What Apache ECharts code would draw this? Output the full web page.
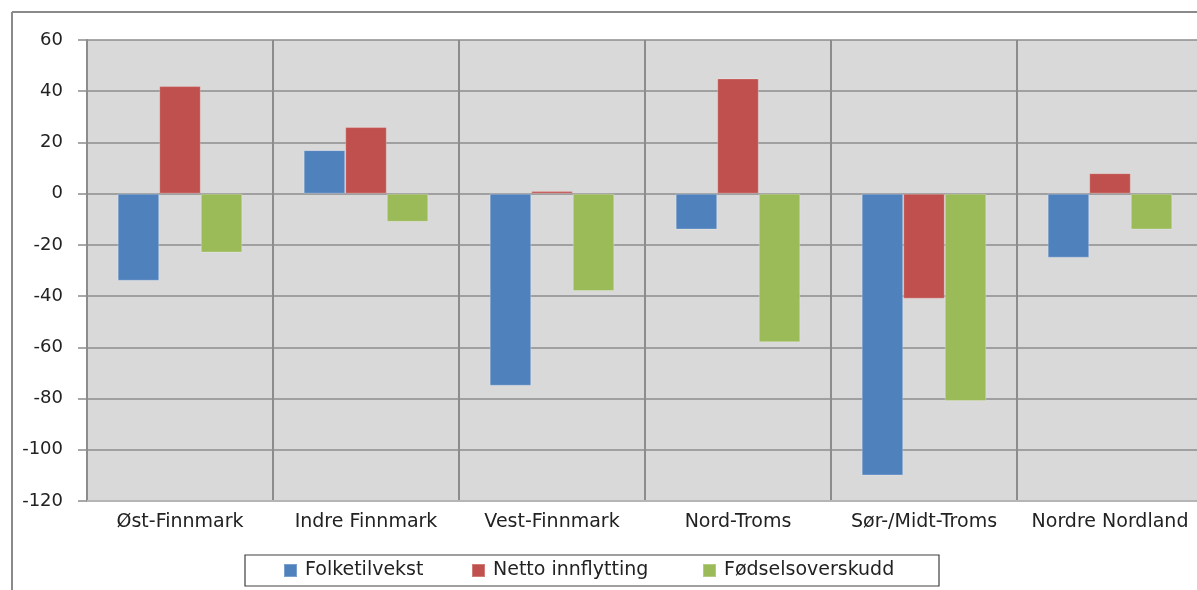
<!DOCTYPE html>
<html>
<head>
<meta charset="utf-8">
<script src="https://cdn.jsdelivr.net/npm/echarts@6/dist/echarts.min.js"></script>
<style>
html,body{margin:0;padding:0;background:#fff;overflow:hidden;}
#c{width:1203px;height:590px;}
</style>
</head>
<body>
<div id="c"></div>
<script>
const categories = ['Øst-Finnmark','Indre Finnmark','Vest-Finnmark','Nord-Troms','Sør-/Midt-Troms','Nordre Nordland'];
const seriesNames = ['Folketilvekst','Netto innflytting','Fødselsoverskudd'];
const folketilvekst = [-34, 17, -75, -14, -110, -25];
const nettoInnflytting = [42, 26, 1, 45, -41, 8];
const fodselsoverskudd = [-23, -11, -38, -58, -81, -14];
const yTicks = {min: -120, max: 60, interval: 20};

const colors = ['#4F81BD','#C0504D','#9BBB59'];
const values = [folketilvekst, nettoInnflytting, fodselsoverskudd];
const font = 'DejaVu Sans';
const legendLefts = [283, 471, 702];

const chart = echarts.init(document.getElementById('c'));
chart.setOption({
  animation: false,
  backgroundColor: '#fff',
  graphic: [
    {type:'line', shape:{x1:12,y1:12,x2:1203,y2:12}, style:{stroke:'#8a8a8a', lineWidth:2}},
    {type:'line', shape:{x1:12,y1:12,x2:12,y2:590}, style:{stroke:'#8a8a8a', lineWidth:2}},
    {type:'rect', shape:{x:245,y:555,width:694,height:31}, style:{fill:'#fff', stroke:'#404040', lineWidth:1.2}, z:-1}
  ],
  legend: seriesNames.map((n,i)=>({
    data:[n], left: legendLefts[i], top: 561, padding:0,
    itemWidth:13, itemHeight:13, icon:'rect', itemGap:0,
    textStyle:{fontFamily:font, fontSize:19, color:'#222', padding:[0,0,0,3]}
  })),
  grid: {left:87, top:40, right:0, bottom:89, show:true, backgroundColor:'#D9D9D9', borderWidth:0, containLabel:false},
  xAxis: {
    type:'category', data: categories,
    axisLine:{show:true, onZero:false, lineStyle:{color:'#b5b5b5', width:2}},
    axisTick:{show:false},
    axisLabel:{fontFamily:font, fontSize:19, color:'#222', margin:12, interval:0},
    splitLine:{show:true, interval:0, lineStyle:{color:'#8c8c8c', width:2}}
  },
  yAxis: {
    type:'value', min:yTicks.min, max:yTicks.max, interval:yTicks.interval,
    axisLine:{show:true, lineStyle:{color:'#8c8c8c', width:2}},
    axisTick:{show:true, length:9, lineStyle:{color:'#8c8c8c', width:1.5}},
    axisLabel:{fontFamily:font, fontSize:18, color:'#222', margin:24},
    splitLine:{show:true, lineStyle:{color:'#8c8c8c', width:1.5}}
  },
  series: seriesNames.map((n,i)=>({
    name:n, type:'bar', data: values[i],
    barGap:'0%', barCategoryGap:'33%',
    itemStyle:{color:colors[i], borderColor:'rgba(255,255,255,0.25)', borderWidth:1},
    z: 3
  }))
});
</script>
</body>
</html>
